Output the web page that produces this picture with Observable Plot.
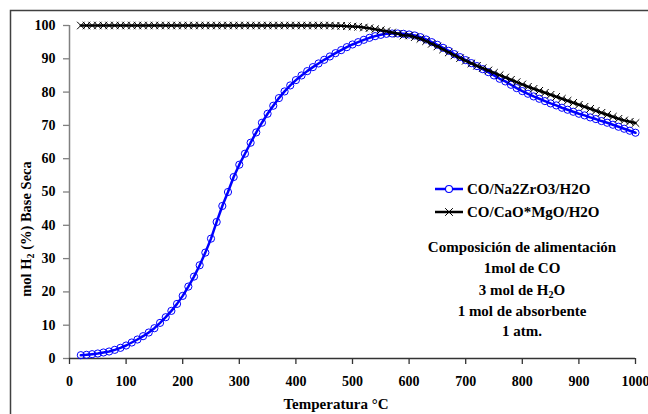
<!DOCTYPE html>
<html><head><meta charset="utf-8">
<script src="https://cdn.jsdelivr.net/npm/d3@7"></script>
<script src="https://cdn.jsdelivr.net/npm/@observablehq/plot@0.6"></script>
<style>body{margin:0;background:#fff;overflow:hidden} #chart{position:relative;width:648px;height:414px;overflow:hidden}</style>
</head><body><div id="chart"></div>
<script>
const temperature = [20,30,40,50,60,70,80,90,100,110,120,130,140,150,160,170,180,190,200,210,220,230,240,250,260,270,280,290,300,310,320,330,340,350,360,370,380,390,400,410,420,430,440,450,460,470,480,490,500,510,520,530,540,550,560,570,580,590,600,610,620,630,640,650,660,670,680,690,700,710,720,730,740,750,760,770,780,790,800,810,820,830,840,850,860,870,880,890,900,910,920,930,940,950,960,970,980,990,1000];
const na2zro3 = [1.0,1.1,1.3,1.5,1.8,2.1,2.6,3.2,3.9,4.8,5.7,6.7,7.8,9.1,10.7,12.4,14.3,16.4,18.8,21.6,24.6,28.0,31.8,36.0,41.0,45.8,50.0,54.5,58.2,61.5,64.8,67.9,70.8,73.5,75.9,78.2,80.2,82.0,83.6,85.0,86.3,87.5,88.6,89.7,90.7,91.7,92.6,93.5,94.3,95.0,95.7,96.3,96.8,97.2,97.5,97.6,97.6,97.5,97.3,97.0,96.5,95.8,95.0,94.2,93.3,92.4,91.4,90.5,89.6,88.7,87.8,86.9,86.0,85.0,84.0,83.2,82.2,81.2,80.3,79.5,78.7,78.0,77.3,76.6,76.0,75.3,74.7,74.1,73.5,73.0,72.4,71.9,71.3,70.8,70.2,69.6,69.0,68.4,67.8];
const caomgo = [100.0,100.0,100.0,100.0,100.0,100.0,100.0,100.0,100.0,100.0,100.0,100.0,100.0,100.0,100.0,100.0,100.0,100.0,100.0,100.0,100.0,100.0,100.0,100.0,100.0,100.0,100.0,100.0,100.0,100.0,100.0,100.0,100.0,100.0,100.0,100.0,100.0,100.0,100.0,100.0,100.0,100.0,100.0,100.0,100.0,99.9,99.9,99.8,99.7,99.6,99.4,99.2,98.9,98.6,98.3,97.9,97.5,97.0,97.0,96.5,96.0,95.3,94.5,93.7,92.8,91.9,91.0,90.2,89.4,88.6,87.9,87.2,86.5,85.8,85.1,84.4,83.7,83.0,82.3,81.6,81.0,80.4,79.8,79.2,78.6,78.0,77.4,76.8,76.2,75.6,75.0,74.4,73.8,73.2,72.6,72.0,71.5,71.1,70.7];
const seriesNames = ["CO/Na2ZrO3/H2O", "CO/CaO*MgO/H2O"];
const xTicks = [0,100,200,300,400,500,600,700,800,900,1000];
const yTicks = [0,10,20,30,40,50,60,70,80,90,100];

const rows = temperature.map((t, i) => ({t, na: na2zro3[i], ca: caomgo[i]}));
const font = "'Liberation Serif','Times New Roman',Times,serif";

const plot = Plot.plot({
  width: 648, height: 414,
  marginLeft: 69, marginRight: 13, marginTop: 25, marginBottom: 56,
  style: {fontFamily: font, fontSize: "14px", fontWeight: "bold", color: "#000", background: "transparent"},
  x: {domain: [0, 1000], label: null},
  y: {domain: [0, 100], label: null},
  marks: [
    Plot.axisY({ticks: yTicks, tickFormat: d => String(d), tickSize: 6, tickPadding: 8, stroke: "#808080", strokeWidth: 1.3, label: null, fontFamily: font, fontWeight: "bold", fontSize: 14}),
    Plot.axisX({ticks: xTicks, tickFormat: d => String(d), tickSize: 6, tickPadding: 12, stroke: "#333", strokeWidth: 1.3, label: null, fontFamily: font, fontWeight: "bold", fontSize: 14}),
    Plot.ruleX([0], {stroke: "#808080", strokeWidth: 1.5}),
    Plot.ruleY([0], {stroke: "#333", strokeWidth: 1.5}),
    Plot.line(rows, {x: "t", y: "na", stroke: "#0000ff", strokeWidth: 2.5}),
    Plot.dot(rows, {x: "t", y: "na", r: 3.6, stroke: "#0000ff", strokeWidth: 1, fill: "none"}),
    Plot.line(rows, {x: "t", y: "ca", stroke: "#000", strokeWidth: 2.5}),
    Plot.dot(rows, {x: "t", y: "ca", symbol: "times", r: 3.5, stroke: "#000", strokeWidth: 1})
  ]
});
document.getElementById("chart").appendChild(plot);

const svg = d3.select(plot);
svg.append("rect").attr("x", 10.5).attr("y", 10.5).attr("width", 700).attr("height", 500)
  .attr("fill", "none").attr("stroke", "#404040").attr("stroke-width", 1.5);

const T = (sel, size = 15) => sel.attr("font-family", font).attr("font-weight", "bold").attr("font-size", size).attr("fill", "#000");

// y label
const yl = T(svg.append("text"), 14.5).attr("text-anchor", "middle").attr("transform", "translate(31,229) rotate(-90)");
yl.append("tspan").text("mol H");
yl.append("tspan").attr("font-size", 10).attr("dy", 3).text("2");
yl.append("tspan").attr("dy", -3).text(" (%) Base Seca");

// x label
T(svg.append("text")).attr("text-anchor", "middle").attr("x", 336).attr("y", 409).text("Temperatura °C");

// legend
const leg = [
  {name: seriesNames[0], color: "#0000ff", y: 189, sym: "circle"},
  {name: seriesNames[1], color: "#000", y: 212, sym: "times"}
];
leg.forEach(d => {
  svg.append("line").attr("x1", 435).attr("x2", 463).attr("y1", d.y).attr("y2", d.y)
    .attr("stroke", d.color).attr("stroke-width", 2.5);
  if (d.sym === "circle") {
    svg.append("circle").attr("cx", 449).attr("cy", d.y).attr("r", 3.5)
      .attr("fill", "#fff").attr("stroke", d.color).attr("stroke-width", 1.1);
  } else {
    svg.append("path").attr("transform", `translate(449,${d.y})`)
      .attr("d", d3.symbol(d3.symbolTimes, 40)()).attr("stroke", d.color).attr("fill", "none");
  }
  T(svg.append("text")).attr("text-anchor", "start").attr("x", 467).attr("y", d.y + 5).text(d.name);
});

// annotation
const noteY = [247, 268, 290, 311, 331];
T(svg.append("text")).attr("text-anchor", "middle").attr("x", 522).attr("y", noteY[0] + 5).text("Composición de alimentación");
T(svg.append("text")).attr("text-anchor", "middle").attr("x", 522).attr("y", noteY[1] + 5).text("1mol de CO");
const n2 = T(svg.append("text")).attr("text-anchor", "middle").attr("x", 522).attr("y", noteY[2] + 5);
n2.append("tspan").text("3 mol de H");
n2.append("tspan").attr("font-size", 10).attr("dy", 3).text("2");
n2.append("tspan").attr("dy", -3).text("O");
T(svg.append("text")).attr("text-anchor", "middle").attr("x", 522).attr("y", noteY[3] + 5).text("1 mol de absorbente");
T(svg.append("text")).attr("text-anchor", "middle").attr("x", 522).attr("y", noteY[4] + 5).text("1 atm.");
</script>
</body></html>
